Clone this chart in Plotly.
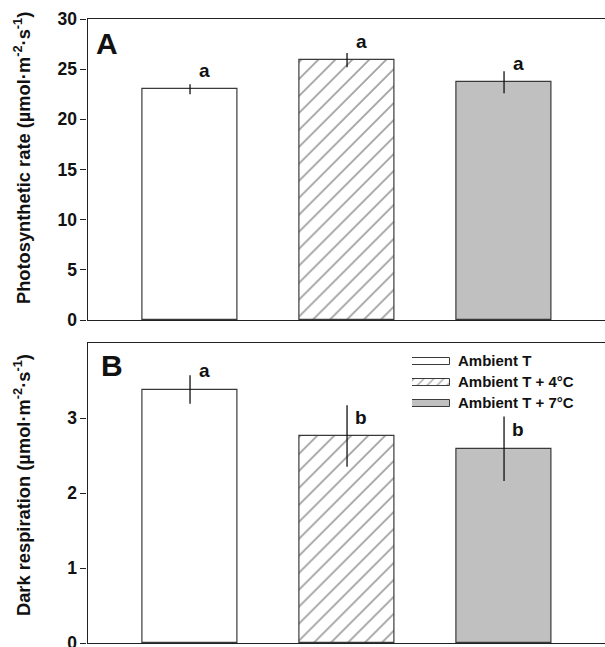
import plotly.graph_objects as go

# ---- data ----
treatments = ["Ambient T", "Ambient T + 4°C", "Ambient T + 7°C"]
photo_rate = [23.0, 25.9, 23.7]
photo_err = [0.5, 0.7, 1.1]
photo_letters = ["a", "a", "a"]
dark_resp = [3.38, 2.76, 2.59]
dark_err = [0.19, 0.41, 0.43]
dark_letters = ["a", "b", "b"]
photo_ticks = [0, 5, 10, 15, 20, 25, 30]
dark_ticks = [0, 1, 2, 3]

W, H = 605, 647
FONT = "Liberation Sans, Arial, sans-serif"

def py(p):
    return 1 - p / H

def pxx(p):
    return p / W

fills = ["white", "white", "#c0c0c0"]
shapes = ["", "/", ""]
edge = "#3a3a3a"
xpos = list(range(len(treatments)))

fig = go.Figure()

for vals, errs, xa, ya in [(photo_rate, photo_err, "x", "y"), (dark_resp, dark_err, "x2", "y2")]:
    fig.add_trace(go.Bar(
        x=xpos, y=vals, width=0.6, xaxis=xa, yaxis=ya,
        marker=dict(color=fills, line=dict(color=edge, width=1.2),
                    pattern=dict(shape=shapes, fgcolor="#000", bgcolor=fills,
                                 size=12, solidity=0.15, fillmode="overlay")),
        error_y=dict(type="data", array=errs, visible=True, color="#111",
                     thickness=1.3, width=0),
        showlegend=False, hoverinfo="skip",
    ))

# legend swatches drawn as horizontal bars on a small helper axis
fig.add_trace(go.Bar(
    y=treatments, x=[1, 1, 1], orientation="h", width=0.34,
    xaxis="x3", yaxis="y3",
    marker=dict(color=fills, line=dict(color=edge, width=1),
                pattern=dict(shape=shapes, fgcolor="#000", bgcolor=fills,
                             size=7, solidity=0.18, fillmode="overlay")),
    showlegend=False, hoverinfo="skip",
))

ax_line = dict(showline=True, linecolor="#222", linewidth=1.2)
xdom = [pxx(87.5), 1.0]
xr = [-0.653, 2.643]
tickfont = dict(family=FONT, size=17.5, color="#111", weight="bold")

fig.update_layout(
    width=W, height=H,
    margin=dict(l=0, r=0, t=0, b=0),
    paper_bgcolor="white", plot_bgcolor="white",
    bargap=0,
    xaxis=dict(domain=xdom, range=xr, anchor="y", showticklabels=False,
               ticks="", mirror=True, showgrid=False, zeroline=False, **ax_line),
    yaxis=dict(domain=[py(320), py(19)], range=[0, 30], anchor="x",
               tickvals=photo_ticks, ticks="outside", ticklen=6, tickwidth=1.2,
               tickcolor="#222", tickfont=tickfont, showgrid=False, zeroline=False,
               automargin=False, ticklabeloverflow="allow", **ax_line),
    xaxis2=dict(domain=xdom, range=xr, anchor="y2", showticklabels=False,
                ticks="", mirror=True, showgrid=False, zeroline=False, **ax_line),
    yaxis2=dict(domain=[py(643), py(343)], range=[0, 4], anchor="x2",
                tickvals=dark_ticks, ticks="outside", ticklen=6, tickwidth=1.2,
                tickcolor="#222", tickfont=tickfont, showgrid=False, zeroline=False,
                automargin=False, ticklabeloverflow="allow", **ax_line),
    xaxis3=dict(domain=[pxx(412), pxx(450)], range=[0, 1], anchor="y3",
                visible=False, fixedrange=True),
    yaxis3=dict(domain=[py(414), py(351)], range=[2.5, -0.5], anchor="x3",
                visible=False, fixedrange=True),
)

annos = []
for vals, letters, xa, ya in [(photo_rate, photo_letters, "x", "y"),
                              (dark_resp, dark_letters, "x2", "y2")]:
    for i, (v, t) in enumerate(zip(vals, letters)):
        annos.append(dict(x=i + 0.09, y=v, xref=xa, yref=ya, text=t,
                          showarrow=False, xanchor="center", yanchor="middle",
                          yshift=19,
                          font=dict(family=FONT, size=19, color="#111", weight="bold")))

for name in treatments:
    annos.append(dict(x=pxx(456), y=name, xref="paper", yref="y3", text=name,
                      showarrow=False, xanchor="left", yanchor="middle", yshift=1,
                      font=dict(family=FONT, size=15, color="#111", weight="bold")))

annos.append(dict(x=pxx(94), y=py(25), xref="paper", yref="paper", text="A",
                  showarrow=False, xanchor="left", yanchor="top",
                  font=dict(family=FONT, size=30, color="#111", weight="bold")))
annos.append(dict(x=pxx(99), y=py(347), xref="paper", yref="paper", text="B",
                  showarrow=False, xanchor="left", yanchor="top",
                  font=dict(family=FONT, size=30, color="#111", weight="bold")))

annos.append(dict(x=pxx(22), y=py(158), xref="paper", yref="paper",
                  text="Photosynthetic rate (µmol·m<sup>-2</sup>·s<sup>-1</sup>)",
                  textangle=-90, showarrow=False, xanchor="center", yanchor="middle",
                  font=dict(family=FONT, size=18.3, color="#111", weight="bold")))
annos.append(dict(x=pxx(22), y=py(485), xref="paper", yref="paper",
                  text="Dark respiration (µmol·m<sup>-2</sup>·s<sup>-1</sup>)",
                  textangle=-90, showarrow=False, xanchor="center", yanchor="middle",
                  font=dict(family=FONT, size=18.3, color="#111", weight="bold")))

fig.update_layout(annotations=annos)

fig.write_html(
    "out.html",
    config={"displayModeBar": False},
    post_script="document.body.style.margin='0px';document.body.style.overflow='hidden';",
)
